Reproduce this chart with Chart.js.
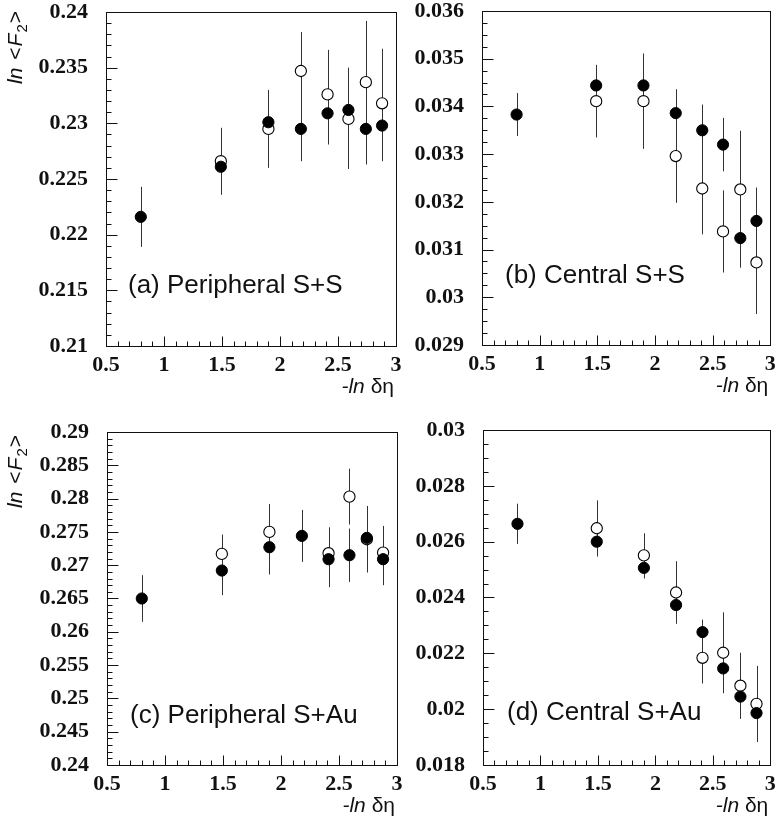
<!DOCTYPE html>
<html>
<head>
<meta charset="utf-8">
<script src="https://cdn.jsdelivr.net/npm/chart.js@4.4.1/dist/chart.umd.min.js"></script>
<style>
    html, body { margin: 0; padding: 0; background: #fff; }
    #page { position: relative; width: 777px; height: 819px; overflow: hidden; background: #fff; }
    #page canvas { position: absolute; }
</style>
</head>
<body>
<div id="page">
    <canvas id="chartA" width="404" height="410" style="left:0px;top:0px"></canvas>
    <canvas id="chartB" width="377" height="410" style="left:400px;top:0px"></canvas>
    <canvas id="chartC" width="404" height="409" style="left:0px;top:410px"></canvas>
    <canvas id="chartD" width="377" height="409" style="left:400px;top:410px"></canvas>
</div>
<script>
// -ln(delta eta) bins shared by all four panels
const etaValues = [0.80, 1.49, 1.90, 2.18, 2.41, 2.59, 2.74, 2.88];
const xTickLabels = [0.5, 1, 1.5, 2, 2.5, 3];

// (a) Peripheral S+S
const periSSFilled    = [0.2216, 0.2261, 0.2301, 0.2295, 0.2309, 0.2312, 0.2295, 0.2298];
const periSSFilledErr = [0.0027, 0.0025, 0.0029, 0.0029, 0.0028, 0.0038, 0.0032, 0.0032];
const periSSOpen      = [null, 0.2266, 0.2295, 0.2347, 0.2326, 0.2304, 0.2337, 0.2318];
const periSSOpenErr   = [null, 0.0030, 0.0035, 0.0035, 0.0040, 0.0045, 0.0055, 0.0049];
const periSSTicks     = [0.21, 0.215, 0.22, 0.225, 0.23, 0.235, 0.24];

// (b) Central S+S
const centSSFilled    = [0.03383, 0.03444, 0.03444, 0.03386, 0.0335, 0.0332, 0.03124, 0.0316];
const centSSFilledErr = [0.00045, 0.00043, 0.00064, 0.0005, 0.00054, 0.00056, 0.00062, 0.0007];
const centSSOpen      = [null, 0.03411, 0.03411, 0.03296, 0.03228, 0.03138, 0.03226, 0.03073];
const centSSOpenErr   = [null, 0.00076, 0.001, 0.00098, 0.00096, 0.00086, 0.00123, 0.00108];
const centSSTicks     = [0.029, 0.03, 0.031, 0.032, 0.033, 0.034, 0.035, 0.036];

// (c) Peripheral S+Au
const periSAuFilled    = [0.2650, 0.2692, 0.2727, 0.2744, 0.2709, 0.2715, 0.2741, 0.2709];
const periSAuFilledErr = [0.0035, 0.0037, 0.0041, 0.0039, 0.0042, 0.0040, 0.0046, 0.0039];
const periSAuOpen      = [null, 0.2717, 0.2750, null, 0.2718, 0.2803, 0.2739, 0.2719];
const periSAuOpenErr   = [null, 0.0029, 0.0042, null, 0.0039, 0.0042, 0.0050, 0.0040];
const periSAuTicks     = [0.24, 0.245, 0.25, 0.255, 0.26, 0.265, 0.27, 0.275, 0.28, 0.285, 0.29];

// (d) Central S+Au
const centSAuFilled    = [0.02664, 0.0260, 0.02506, 0.02373, 0.02276, 0.02146, 0.02045, 0.01986];
const centSAuFilledErr = [0.00072, 0.00053, 0.00038, 0.00065, 0.00045, 0.00086, 0.00079, 0.00103];
const centSAuOpen      = [null, 0.02648, 0.02551, 0.02418, 0.02184, 0.02202, 0.02084, 0.02019];
const centSAuOpenErr   = [null, 0.001, 0.00079, 0.00112, 0.00092, 0.00145, 0.00118, 0.00136];
const centSAuTicks     = [0.018, 0.02, 0.022, 0.024, 0.026, 0.028, 0.03];

const SANS = '"Liberation Sans", Arial, Helvetica, sans-serif';
const SERIF = '"Liberation Serif", "Times New Roman", serif';
const INK = '#111';

function toPoints(values, errs) {
    const pts = [];
    etaValues.forEach((x, i) => {
        if (values[i] == null) return;
        pts.push({ x: x, y: values[i], err: errs[i] });
    });
    return pts;
}

function isMajor(v, majors, step) {
    return majors.some(m => Math.abs(m - v) < step * 0.01);
}

// error bars, frame, inward ticks and the texts
const physicsPlot = {
    id: 'physicsPlot',
    beforeDatasetsDraw(chart) {
        const ctx = chart.ctx;
        const yScale = chart.scales.y;
        ctx.save();
        ctx.strokeStyle = '#333';
        ctx.lineWidth = 1;
        chart.data.datasets.forEach((ds, di) => {
            const meta = chart.getDatasetMeta(di);
            meta.data.forEach((el, i) => {
                const raw = ds.data[i];
                const top = yScale.getPixelForValue(raw.y + raw.err);
                const bot = yScale.getPixelForValue(raw.y - raw.err);
                const px = Math.round(el.x) + 0.5;
                ctx.beginPath();
                ctx.moveTo(px, top);
                ctx.lineTo(px, bot);
                ctx.stroke();
            });
        });
        ctx.restore();
    },
    afterDraw(chart, args, opts) {
        const ctx = chart.ctx;
        const area = chart.chartArea;
        const xs = chart.scales.x;
        const ys = chart.scales.y;
        ctx.save();
        ctx.strokeStyle = INK;
        ctx.lineWidth = 1;
        const L = Math.round(area.left) + 0.5, R = Math.round(area.right) + 0.5;
        const T = Math.round(area.top) + 0.5, B = Math.round(area.bottom) + 0.5;
        ctx.strokeRect(L, T, R - L, B - T);

        // inward ticks on the bottom and left sides
        const xn = Math.round((xs.max - xs.min) / opts.xMinor);
        ctx.beginPath();
        for (let k = 1; k < xn; k++) {
            const v = xs.min + k * opts.xMinor;
            const len = isMajor(v, xTickLabels, opts.xMinor) ? 10 : 5;
            const px = Math.round(xs.getPixelForValue(v)) + 0.5;
            ctx.moveTo(px, B);
            ctx.lineTo(px, B - len);
        }
        const yn = Math.round((ys.max - ys.min) / opts.yMinor);
        for (let k = 1; k < yn; k++) {
            const v = ys.min + k * opts.yMinor;
            const len = isMajor(v, opts.yTicks, opts.yMinor) ? 11 : 5;
            const py = Math.round(ys.getPixelForValue(v)) + 0.5;
            ctx.moveTo(L, py);
            ctx.lineTo(L + len, py);
        }
        ctx.stroke();

        ctx.fillStyle = INK;
        ctx.textBaseline = 'alphabetic';

        // panel label
        ctx.textAlign = 'left';
        ctx.font = `26px ${SANS}`;
        ctx.fillText(opts.label, opts.labelX, opts.labelY);

        // x title: -ln δη, right aligned to the frame
        const parts = [['-', true], ['ln', true], [' δη', false]];
        let total = 0;
        parts.forEach(p => {
            ctx.font = `${p[1] ? 'italic ' : ''}21px ${SANS}`;
            total += ctx.measureText(p[0]).width;
        });
        let xPos = area.right - total - 2;
        const yBase = area.bottom + 47;
        parts.forEach(p => {
            ctx.font = `${p[1] ? 'italic ' : ''}21px ${SANS}`;
            ctx.fillText(p[0], xPos, yBase);
            xPos += ctx.measureText(p[0]).width;
        });

        // y title: ln <F2>, rotated
        if (opts.yTitleY != null) {
            ctx.translate(22, opts.yTitleY);
            ctx.rotate(-Math.PI / 2);
            const tparts = [['ln', true, false], ['<', false, false], ['F', true, false], ['2', false, true], ['>', false, false]];
            let pos = 0;
            tparts.forEach((p, i) => {
                const fs = p[2] ? 15 : 21;
                ctx.font = `${p[1] ? 'italic ' : ''}${fs}px ${SANS}`;
                if (i === 1) pos += 7;
                ctx.fillText(p[0], pos, p[2] ? 5 : 0);
                pos += ctx.measureText(p[0]).width + 1;
            });
        }
        ctx.restore();
    }
};

function makePanel(p) {
    const ctx = document.getElementById(p.id).getContext('2d');
    return new Chart(ctx, {
        type: 'scatter',
        data: {
            datasets: [
                {
                    label: 'filled',
                    data: toPoints(p.filled, p.filledErr),
                    pointStyle: 'circle',
                    pointRadius: 5.6,
                    pointBackgroundColor: '#000',
                    pointBorderColor: '#000',
                    pointBorderWidth: 1,
                    showLine: false
                },
                {
                    label: 'open',
                    data: toPoints(p.open, p.openErr),
                    pointStyle: 'circle',
                    pointRadius: 5.6,
                    pointBackgroundColor: '#fff',
                    pointBorderColor: '#000',
                    pointBorderWidth: 1.1,
                    showLine: false
                }
            ]
        },
        options: {
            responsive: false,
            animation: false,
            events: [],
            layout: { padding: { top: p.padTop, right: p.padRight, left: 0, bottom: 0 } },
            plugins: {
                legend: { display: false },
                tooltip: { enabled: false },
                physicsPlot: {
                    label: p.label,
                    labelX: p.labelX,
                    labelY: p.labelY,
                    yTitleY: p.yTitleY,
                    yTicks: p.yTicks,
                    yMinor: p.yMinor,
                    xMinor: 0.1
                }
            },
            scales: {
                x: {
                    type: 'linear',
                    min: 0.5,
                    max: 3,
                    afterBuildTicks: s => { s.ticks = xTickLabels.map(v => ({ value: v })); },
                    afterFit: s => { s.height = p.xHeight; s.paddingLeft = 0; s.paddingRight = 0; },
                    grid: { display: false, drawTicks: false },
                    border: { display: false },
                    ticks: {
                        padding: 6,
                        color: INK,
                        maxRotation: 0,
                        autoSkip: false,
                        font: { family: SERIF, size: 22, weight: 'bold' },
                        callback: v => String(v)
                    }
                },
                y: {
                    type: 'linear',
                    min: p.yTicks[0],
                    max: p.yTicks[p.yTicks.length - 1],
                    afterBuildTicks: s => { s.ticks = p.yTicks.map(v => ({ value: v })); },
                    afterFit: s => { s.width = p.yWidth; s.paddingTop = 0; s.paddingBottom = 0; },
                    grid: { display: false, drawTicks: false },
                    border: { display: false },
                    ticks: {
                        padding: 18,
                        color: INK,
                        autoSkip: false,
                        font: { family: SERIF, size: 22, weight: 'bold' },
                        callback: v => String(v)
                    }
                }
            }
        },
        plugins: [physicsPlot]
    });
}

makePanel({
    id: 'chartA', filled: periSSFilled, filledErr: periSSFilledErr, open: periSSOpen, openErr: periSSOpenErr,
    yTicks: periSSTicks, yMinor: 0.001, label: '(a) Peripheral S+S', labelX: 128, labelY: 293,
    yTitleY: 84, padTop: 12, padRight: 8, yWidth: 106, xHeight: 64
});
makePanel({
    id: 'chartB', filled: centSSFilled, filledErr: centSSFilledErr, open: centSSOpen, openErr: centSSOpenErr,
    yTicks: centSSTicks, yMinor: 0.00025, label: '(b) Central S+S', labelX: 105, labelY: 283,
    yTitleY: null, padTop: 11, padRight: 6, yWidth: 82, xHeight: 65
});
makePanel({
    id: 'chartC', filled: periSAuFilled, filledErr: periSAuFilledErr, open: periSAuOpen, openErr: periSAuOpenErr,
    yTicks: periSAuTicks, yMinor: 0.001, label: '(c) Peripheral S+Au', labelX: 130, labelY: 313,
    yTitleY: 98, padTop: 22, padRight: 7, yWidth: 107, xHeight: 54
});
makePanel({
    id: 'chartD', filled: centSAuFilled, filledErr: centSAuFilledErr, open: centSAuOpen, openErr: centSAuOpenErr,
    yTicks: centSAuTicks, yMinor: 0.0005, label: '(d) Central S+Au', labelX: 107, labelY: 310,
    yTitleY: null, padTop: 20, padRight: 5, yWidth: 83, xHeight: 54
});
</script>
</body>
</html>
